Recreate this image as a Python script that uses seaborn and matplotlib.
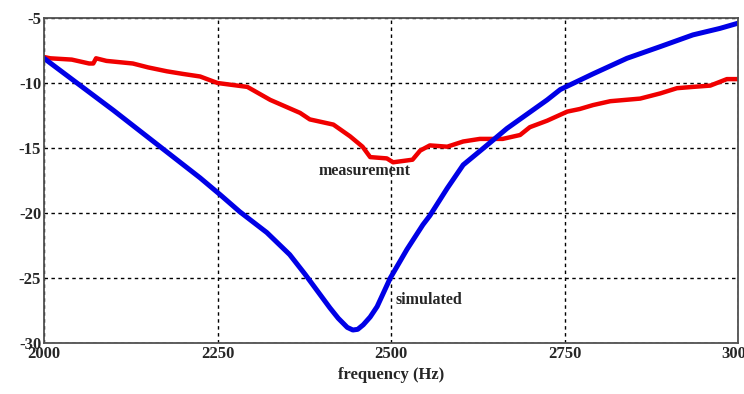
import matplotlib
matplotlib.use("Agg")
import matplotlib.pyplot as plt
import pandas as pd
import seaborn as sns

# simulated curve (frequency, dB)
sim_freq = [2000, 2100, 2225, 2254, 2282, 2321, 2354, 2376, 2412, 2424, 2437,
            2445, 2452, 2460, 2470, 2480, 2499, 2523, 2546, 2556, 2581, 2604,
            2638, 2667, 2696, 2725, 2744, 2791, 2840, 2888, 2935, 2974, 3000]
sim_db = [-8.1, -12.1, -17.3, -18.6, -19.9, -21.5, -23.2, -24.7, -27.3, -28.1, -28.8,
          -29.0, -28.95, -28.6, -28.0, -27.2, -25.0, -22.8, -20.9, -20.2, -18.1, -16.3,
          -14.8, -13.5, -12.4, -11.3, -10.5, -9.3, -8.1, -7.2, -6.3, -5.8, -5.4]

# measured curve
meas_freq = [2000, 2009, 2040, 2065, 2071, 2075, 2090, 2128, 2150, 2177, 2200,
             2225, 2240, 2250, 2293, 2326, 2369, 2383, 2417, 2441, 2459, 2470,
             2494, 2503, 2531, 2542, 2556, 2581, 2604, 2628, 2661, 2686, 2700,
             2725, 2754, 2772, 2791, 2816, 2859, 2888, 2912, 2935, 2960, 2984, 3000]
meas_db = [-8.0, -8.1, -8.2, -8.5, -8.5, -8.1, -8.3, -8.5, -8.8, -9.1, -9.3,
           -9.5, -9.8, -10.0, -10.3, -11.3, -12.3, -12.8, -13.2, -14.1, -14.9, -15.7,
           -15.8, -16.1, -15.9, -15.2, -14.8, -14.9, -14.5, -14.3, -14.3, -14.0, -13.4,
           -12.9, -12.2, -12.0, -11.7, -11.4, -11.2, -10.8, -10.4, -10.3, -10.2, -9.7, -9.7]

x_ticks = [2000, 2250, 2500, 2750, 3000]
y_ticks = [-30, -25, -20, -15, -10, -5]

sns.set_style("white")
plt.rcParams['font.family'] = ['Liberation Serif', 'DejaVu Serif']
plt.rcParams['font.weight'] = 'bold'

sim = pd.DataFrame({'freq': sim_freq, 'db': sim_db})
meas = pd.DataFrame({'freq': meas_freq, 'db': meas_db})

fig = plt.figure(figsize=(7.44, 3.94), dpi=100)
ax = fig.add_axes([44 / 744, 51 / 394, 694 / 744, 325 / 394])

sns.lineplot(data=meas, x='freq', y='db', ax=ax, color='#f00000', lw=3.2, sort=False)
sns.lineplot(data=sim, x='freq', y='db', ax=ax, color='#0000e6', lw=3.6, sort=False)

ax.set_xlim(2000, 3000)
ax.set_ylim(-30, -5)
ax.set_xticks(x_ticks)
ax.set_yticks(y_ticks)
ax.set_xticklabels([str(t) for t in x_ticks], fontsize=12, fontweight='bold')
ax.set_yticklabels([str(t) for t in y_ticks], fontsize=12, fontweight='bold')
ax.tick_params(direction='in', length=3, pad=2, color='#404040')
ax.grid(True, color='black', linestyle=(0, (2.5, 2.5)), lw=1)
for s in ax.spines.values():
    s.set_color('#505050')
    s.set_linewidth(1.3)

ax.set_xlabel('frequency (Hz)', fontsize=12, fontweight='bold', labelpad=4)
ax.set_ylabel('')

ax.text(2395, -16.8, 'measurement', fontsize=11.5, fontweight='bold', va='center')
ax.text(2506, -26.7, 'simulated', fontsize=11.5, fontweight='bold', va='center')

fig.savefig('out.png', dpi=100)
